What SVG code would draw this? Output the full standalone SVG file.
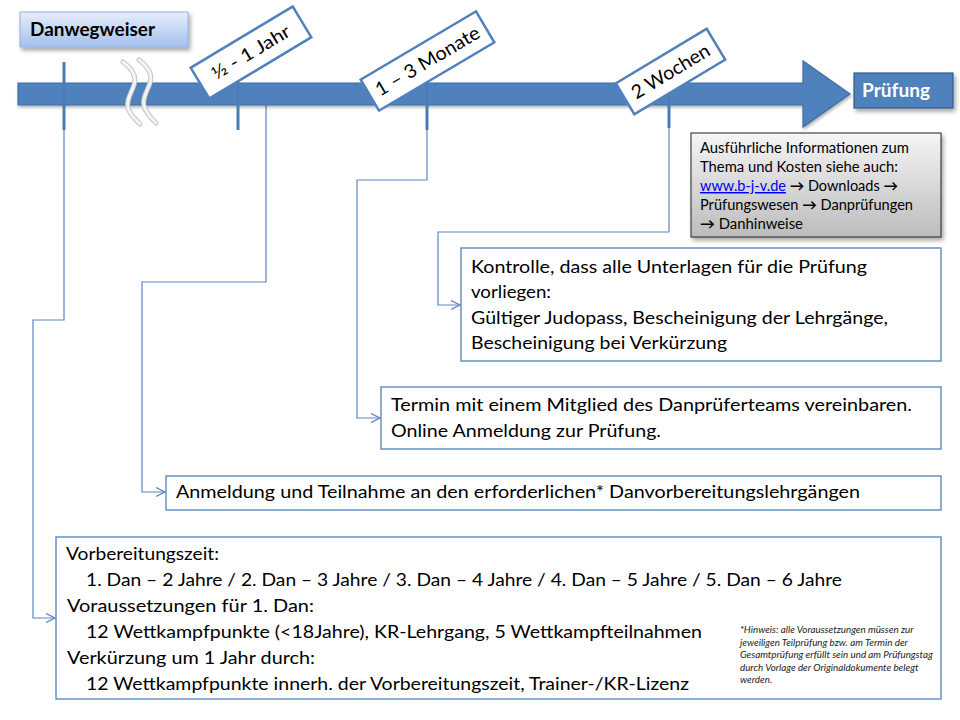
<svg xmlns="http://www.w3.org/2000/svg" width="960" height="720" viewBox="0 0 960 720">
<defs>
<style>
.t{font-family:Lato,"Open Sans","Liberation Sans",sans-serif;fill:#000}
.box{fill:#fff;stroke:#4f81bd;stroke-width:1.3}
.conn{fill:none;stroke:#5b86c0;stroke-width:1.2}
.tick{stroke:#4a7cb8;stroke-width:3}
.lab{fill:#fff;stroke:#4f81bd;stroke-width:2.5}
.m{font-size:18px}
.g{font-size:14.5px}
.fn{font-size:9.8px;font-style:italic;fill:#222}
.sq{fill:none;stroke-linecap:round}
</style>
<marker id="arr" viewBox="0 0 10 10" refX="9" refY="5" markerWidth="10" markerHeight="10" markerUnits="userSpaceOnUse" orient="auto">
<path d="M0,0.5 L9,5 L0,9.5" fill="none" stroke="#5b86c0" stroke-width="1.2"/>
</marker>
<linearGradient id="gTitle" x1="0" y1="0" x2="0" y2="1"><stop offset="0" stop-color="#e6eefa"/><stop offset="1" stop-color="#a4c1ee"/></linearGradient>
<linearGradient id="gGray" x1="0" y1="0" x2="0" y2="1"><stop offset="0" stop-color="#f5f5f5"/><stop offset="1" stop-color="#bcbcbc"/></linearGradient>
<filter id="sh" x="-10%" y="-20%" width="130%" height="160%"><feDropShadow dx="2" dy="3" stdDeviation="2" flood-color="#000" flood-opacity="0.35"/></filter>
<filter id="sh2" x="-5%" y="-30%" width="110%" height="180%"><feDropShadow dx="1" dy="2" stdDeviation="1.5" flood-color="#000" flood-opacity="0.3"/></filter>
</defs>

<g id="connectors">
<path class="conn" d="M64,130 V320 H33 V618 H55" marker-end="url(#arr)"/>
<path class="conn" d="M266,100 V282 H142 V492 H165" marker-end="url(#arr)"/>
<path class="conn" d="M427,130 V180 H357 V418 H380" marker-end="url(#arr)"/>
<path class="conn" d="M669,128 V232 H438 V305 H460" marker-end="url(#arr)"/>
</g>

<g id="timeline">
<path d="M18,83 H803 V61 L850,94 L803,127 V105 H18 Z" fill="#4f81bd" stroke="#3f6ea6" stroke-width="1.2" filter="url(#sh2)"/>
<line class="tick" x1="64" y1="62" x2="64" y2="130"/>
<line class="tick" x1="238" y1="75" x2="238" y2="130"/>
<line class="tick" x1="427" y1="70" x2="427" y2="130"/>
<line class="tick" x1="669" y1="70" x2="669" y2="128"/>
</g>

<g id="break-mark">
<path class="sq" stroke="#c4c4c4" stroke-width="5" d="M123,62 C131,68 137,76 134,85 C131,94 126,100 128,108 C130,115 135,119 140,124"/>
<path class="sq" stroke="#f4f4f4" stroke-width="3" d="M123,62 C131,68 137,76 134,85 C131,94 126,100 128,108 C130,115 135,119 140,124"/>
<path class="sq" stroke="#c4c4c4" stroke-width="5" d="M139,60 C147,66 153,74 150,83 C147,92 142,98 144,106 C146,113 151,118 156,123"/>
<path class="sq" stroke="#f4f4f4" stroke-width="3" d="M139,60 C147,66 153,74 150,83 C147,92 142,98 144,106 C146,113 151,118 156,123"/>
</g>

<g id="label-half-year" transform="translate(251,52.5) rotate(-31)">
<rect class="lab" x="-59.5" y="-18" width="119" height="36"/>
<text class="t" font-size="18" text-anchor="middle" y="6" textLength="88" lengthAdjust="spacingAndGlyphs">½ - 1 Jahr</text>
</g>
<g id="label-months" transform="translate(427.5,61) rotate(-30.6)">
<rect class="lab" x="-67" y="-18" width="134" height="36"/>
<text class="t" font-size="19" text-anchor="middle" y="6.5" textLength="118" lengthAdjust="spacingAndGlyphs">1 – 3 Monate</text>
</g>
<g id="label-weeks" transform="translate(670.5,71.5) rotate(-31)">
<rect class="lab" x="-53" y="-18" width="106" height="36"/>
<text class="t" font-size="19" text-anchor="middle" y="6.5" textLength="88" lengthAdjust="spacingAndGlyphs">2 Wochen</text>
</g>

<g id="node-title">
<rect x="20" y="12" width="168" height="35" fill="url(#gTitle)" stroke="#8fb1df" stroke-width="1" filter="url(#sh)"/>
<text class="t" x="30" y="36" font-size="18" font-weight="bold" textLength="125" lengthAdjust="spacingAndGlyphs">Danwegweiser</text>
</g>

<g id="node-pruefung">
<rect x="854" y="73" width="99" height="35" fill="#4f81bd" stroke="#385d8a" stroke-width="1.2" filter="url(#sh)"/>
<text x="862" y="97" font-family="Lato,'Open Sans','Liberation Sans',sans-serif" font-size="18" font-weight="bold" fill="#fff" textLength="68" lengthAdjust="spacingAndGlyphs">Prüfung</text>
</g>

<g id="node-info">
<rect x="691" y="133" width="250" height="104" fill="url(#gGray)" stroke="#222" stroke-width="1" filter="url(#sh)"/>
<text class="t g" x="700" y="153" textLength="209" lengthAdjust="spacingAndGlyphs">Ausführliche Informationen zum</text>
<text class="t g" x="700" y="172" textLength="198" lengthAdjust="spacingAndGlyphs">Thema und Kosten siehe auch:</text>
<text class="t g" x="700" y="191" textLength="198" lengthAdjust="spacingAndGlyphs"><tspan fill="#0000ee" text-decoration="underline">www.b-j-v.de</tspan> <tspan font-weight="bold">→</tspan> Downloads <tspan font-weight="bold">→</tspan></text>
<text class="t g" x="700" y="210" textLength="213" lengthAdjust="spacingAndGlyphs">Prüfungswesen <tspan font-weight="bold">→</tspan> Danprüfungen</text>
<text class="t g" x="700" y="229" textLength="103" lengthAdjust="spacingAndGlyphs"><tspan font-weight="bold">→</tspan> Danhinweise</text>
</g>

<g id="node-kontrolle">
<rect class="box" x="461" y="248" width="480" height="113"/>
<text class="t m" x="471" y="273" textLength="396" lengthAdjust="spacingAndGlyphs">Kontrolle, dass alle Unterlagen für die Prüfung</text>
<text class="t m" x="471" y="298" textLength="80" lengthAdjust="spacingAndGlyphs">vorliegen:</text>
<text class="t m" x="471" y="324" textLength="417" lengthAdjust="spacingAndGlyphs">Gültiger Judopass, Bescheinigung der Lehrgänge,</text>
<text class="t m" x="471" y="349" textLength="256" lengthAdjust="spacingAndGlyphs">Bescheinigung bei Verkürzung</text>
</g>

<g id="node-termin">
<rect class="box" x="381" y="387" width="560" height="62"/>
<text class="t m" x="391" y="411" textLength="521" lengthAdjust="spacingAndGlyphs">Termin mit einem Mitglied des Danprüferteams vereinbaren.</text>
<text class="t m" x="391" y="437" textLength="270" lengthAdjust="spacingAndGlyphs">Online Anmeldung zur Prüfung.</text>
</g>

<g id="node-anmeldung">
<rect class="box" x="166" y="476" width="775" height="34"/>
<text class="t m" x="176" y="498" textLength="684" lengthAdjust="spacingAndGlyphs">Anmeldung und Teilnahme an den erforderlichen* Danvorbereitungslehrgängen</text>
</g>

<g id="node-vorbereitung">
<rect class="box" x="56" y="537" width="885" height="162"/>
<text class="t m" x="66" y="560" textLength="153" lengthAdjust="spacingAndGlyphs">Vorbereitungszeit:</text>
<text class="t m" x="86" y="586" textLength="756" lengthAdjust="spacingAndGlyphs">1. Dan – 2 Jahre / 2. Dan – 3 Jahre / 3. Dan – 4 Jahre / 4. Dan – 5 Jahre / 5. Dan – 6 Jahre</text>
<text class="t m" x="67" y="612" textLength="247" lengthAdjust="spacingAndGlyphs">Voraussetzungen für 1. Dan:</text>
<text class="t m" x="86" y="638" textLength="616" lengthAdjust="spacingAndGlyphs">12 Wettkampfpunkte (&lt;18Jahre), KR-Lehrgang, 5 Wettkampfteilnahmen</text>
<text class="t m" x="67" y="664" textLength="248" lengthAdjust="spacingAndGlyphs">Verkürzung um 1 Jahr durch:</text>
<text class="t m" x="86" y="690" textLength="603" lengthAdjust="spacingAndGlyphs">12 Wettkampfpunkte innerh. der Vorbereitungszeit, Trainer-/KR-Lizenz</text>
<text class="t fn" x="740" y="633">*Hinweis: alle Voraussetzungen müssen zur</text>
<text class="t fn" x="740" y="645.5">jeweiligen Teilprüfung bzw. am Termin der</text>
<text class="t fn" x="740" y="658">Gesamtprüfung erfüllt sein und am Prüfungstag</text>
<text class="t fn" x="740" y="670.5">durch Vorlage der Originaldokumente belegt</text>
<text class="t fn" x="740" y="683">werden.</text>
</g>
</svg>
